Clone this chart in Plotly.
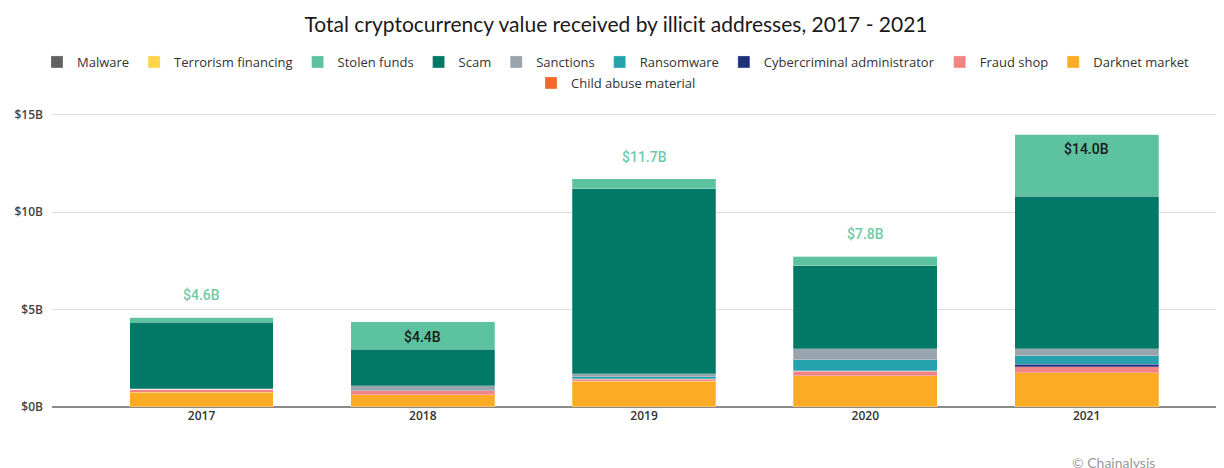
import plotly.graph_objects as go

years = ["2017", "2018", "2019", "2020", "2021"]

# values in billions of USD
child_abuse = [0.01, 0.01, 0.01, 0.01, 0.01]
darknet_market = [0.75, 0.62, 1.30, 1.59, 1.76]
fraud_shop = [0.15, 0.20, 0.12, 0.24, 0.31]
cyber_admin = [0.00, 0.00, 0.01, 0.01, 0.12]
ransomware = [0.01, 0.01, 0.12, 0.58, 0.44]
sanctions = [0.01, 0.26, 0.15, 0.55, 0.36]
scam = [3.42, 1.86, 9.50, 4.27, 7.83]
stolen_funds = [0.25, 1.41, 0.51, 0.48, 3.18]
terrorism = [0.00, 0.00, 0.00, 0.00, 0.00]
malware = [0.01, 0.01, 0.01, 0.04, 0.01]

y_ticks = [0, 5, 10, 15]
y_tick_labels = ["$0B", "$5B", "$10B", "$15B"]

# stacking order bottom -> top; (name, values, colour, legend group)
series = [
    ("Child abuse material", child_abuse, "#f26a2a", "legend2"),
    ("Darknet market", darknet_market, "#fbab24", "legend"),
    ("Fraud shop", fraud_shop, "#f28584", "legend"),
    ("Cybercriminal administrator", cyber_admin, "#1c307e", "legend"),
    ("Ransomware", ransomware, "#26a1ae", "legend"),
    ("Sanctions", sanctions, "#98a4ae", "legend"),
    ("Scam", scam, "#027866", "legend"),
    ("Stolen funds", stolen_funds, "#5cc2a0", "legend"),
    ("Terrorism financing", terrorism, "#fdd34a", "legend"),
    ("Malware", malware, "#616161", "legend"),
]

label_inside = [False, True, False, False, True]

fig = go.Figure()
for name, vals, col, lg in series:
    fig.add_trace(go.Bar(
        x=years, y=vals, name=name, legend=lg,
        marker=dict(color=col, line=dict(color="rgba(255,255,255,0.5)", width=0.5)),
        width=0.65,
    ))

totals = [sum(s[1][i] for s in series) for i in range(len(years))]
for i, yr in enumerate(years):
    inside = label_inside[i]
    fig.add_annotation(
        x=i, y=totals[i], xref="x", yref="y",
        text="$" + f"{totals[i]:.1f}" + "B", showarrow=False,
        yshift=-15 if inside else 22,
        font=dict(family="Roboto", size=14, color="#1a1a1a" if inside else "#6fcba9",
                  weight=500),
    )

W, H = 1216, 460
ML, MR, MT, MB = 44, 0, 97, 61
pw, ph = W - ML - MR, H - MT - MB
fig.add_annotation(
    x=(1062 - ML) / pw, y=1 - (454 - MT) / ph, xref="paper", yref="paper",
    xanchor="left", yanchor="middle",
    text="© Chainalysis", showarrow=False,
    font=dict(family="Lato", size=14, color="#9a9a9a"),
)

fig.update_layout(
    width=W, height=H,
    barmode="stack",
    bargap=0.35,
    plot_bgcolor="white", paper_bgcolor="white",
    margin=dict(l=ML, r=MR, t=MT, b=MB, autoexpand=False),
    title=dict(
        text="Total cryptocurrency value received by illicit addresses, 2017 - 2021",
        x=0.5, xanchor="center", xref="container",
        y=1 - 17 / H, yanchor="middle", yref="container",
        font=dict(family="Lato", size=21, color="#1a1a1a"),
    ),
    legend=dict(
        orientation="h", traceorder="reversed",
        x=0.5, xanchor="center", xref="container",
        y=1 - 54 / H, yref="container", yanchor="middle",
        font=dict(family="Open Sans", size=13, color="#333333"),
        itemwidth=30,
    ),
    legend2=dict(
        orientation="h",
        x=0.5, xanchor="center", xref="container",
        y=1 - 75 / H, yref="container", yanchor="middle",
        font=dict(family="Open Sans", size=13, color="#333333"),
        itemwidth=30,
    ),
    xaxis=dict(
        type="category",
        range=[-0.676, 4.621],
        tickfont=dict(family="Open Sans", size=12, color="#333333", weight=600),
        showgrid=False, showline=False, ticks="",
    ),
    yaxis=dict(
        range=[0, 15.51],
        tickvals=y_ticks, ticktext=y_tick_labels,
        tickfont=dict(family="Open Sans", size=12, color="#444444", weight=600),
        gridcolor="#dddddd", gridwidth=1,
        zeroline=True, zerolinecolor="#8a8a8a", zerolinewidth=2,
        ticklabelstandoff=8,
    ),
)

fig.write_html("out.html")
